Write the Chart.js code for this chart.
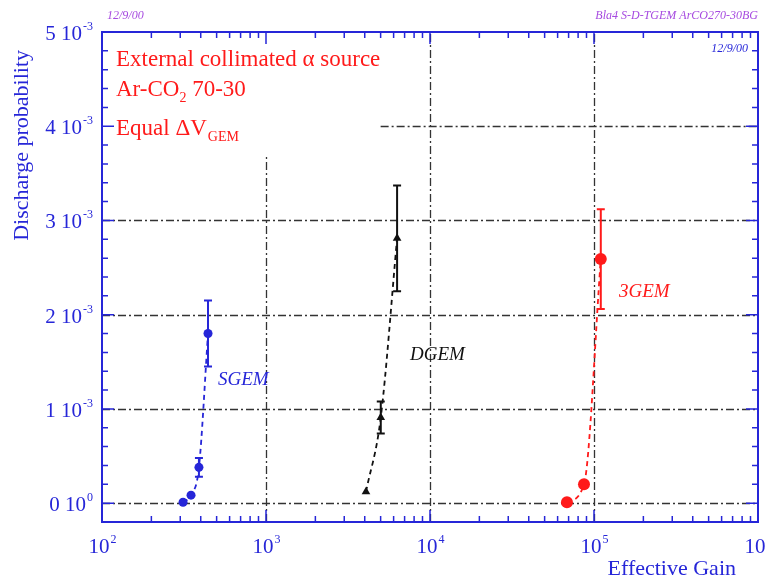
<!DOCTYPE html>
<html>
<head>
<meta charset="utf-8">
<script src="https://cdn.jsdelivr.net/npm/chart.js@4"></script>
<style>
  body { margin: 0; background: #fff; }
  #wrap { width: 765px; height: 578px; }
</style>
</head>
<body>
<div id="wrap"><canvas id="chart" width="765" height="578"></canvas></div>
<script>
// values (gain, discharge probability, error)
const sgemGain = [312, 349, 390, 443];
const sgemProb = [0.01e-3, 0.085e-3, 0.38e-3, 1.8e-3];
const sgemErr = [0, 0, 0.1e-3, 0.35e-3];

const dgemGain = [4070, 5010, 6300];
const dgemProb = [0.12e-3, 0.91e-3, 2.81e-3];
const dgemErr = [0, 0.17e-3, 0.56e-3];

const tgemGain = [68400, 86900, 110000];
const tgemProb = [0.01e-3, 0.2e-3, 2.59e-3];
const tgemErr = [0, 0, 0.53e-3];

const xDecades = [2, 3, 4, 5, 6];
const yTicks = [0, 1, 2, 3, 4, 5];  // in units of 1e-3
const legendLines = ['External collimated \u03b1 source', 'Ar-CO', 'Equal \u0394V'];

const BLUE = '#2626d8';
const RED = '#ff1a1a';
const PURPLE = '#a64ae0';
const SERIF = '"Liberation Serif", "DejaVu Serif", serif';

function pts(xs, ys) {
    return xs.map((x, i) => ({ x: x, y: ys[i] }));
}

function powLabel(ctx, base, exp, x, y, align) {
    ctx.font = '21px ' + SERIF;
    const wb = ctx.measureText(base).width;
    ctx.font = '12px ' + SERIF;
    const we = ctx.measureText(exp).width;
    let x0 = x;
    if (align === 'right') x0 = x - wb - we - 1;
    if (align === 'center') x0 = x - (wb + we) / 2;
    ctx.textAlign = 'left';
    ctx.font = '21px ' + SERIF;
    ctx.fillText(base, x0, y);
    ctx.font = '12px ' + SERIF;
    ctx.fillText(exp, x0 + wb + 1, y - 10);
}

const framePlugin = {
    id: 'frame',
    beforeDatasetsDraw(chart) {
        const ctx = chart.ctx;
        const xs = chart.scales.x, ys = chart.scales.y;
        ctx.save();
        ctx.strokeStyle = '#333';
        ctx.lineWidth = 1.3;
        ctx.setLineDash([8, 3, 2, 3]);
        const hLines = [[0, 100], [1e-3, 100], [2e-3, 100], [3e-3, 100], [4e-3, 5000]];
        hLines.forEach(([v, from]) => {
            const py = Math.round(ys.getPixelForValue(v)) + 0.5;
            ctx.beginPath();
            ctx.moveTo(xs.getPixelForValue(from), py);
            ctx.lineTo(xs.getPixelForValue(1e6), py);
            ctx.stroke();
        });
        const vLines = [[1e3, 3.69e-3], [1e4, 5e-3], [1e5, 5e-3]];
        vLines.forEach(([v, to]) => {
            const px = Math.round(xs.getPixelForValue(v)) + 0.5;
            ctx.beginPath();
            ctx.moveTo(px, ys.getPixelForValue(-0.2e-3));
            ctx.lineTo(px, ys.getPixelForValue(to));
            ctx.stroke();
        });
        ctx.restore();
    },
    afterDatasetsDraw(chart) {
        const ctx = chart.ctx;
        const xs = chart.scales.x, ys = chart.scales.y;
        const a = chart.chartArea;
        ctx.save();

        // error bars
        const groups = [
            [sgemGain, sgemProb, sgemErr, BLUE],
            [dgemGain, dgemProb, dgemErr, '#111'],
            [tgemGain, tgemProb, tgemErr, RED]
        ];
        groups.forEach(([g, p, e, c]) => {
            ctx.strokeStyle = c;
            ctx.lineWidth = 2;
            g.forEach((gv, i) => {
                if (!e[i]) return;
                const px = xs.getPixelForValue(gv);
                const y1 = ys.getPixelForValue(p[i] + e[i]);
                const y2 = ys.getPixelForValue(p[i] - e[i]);
                ctx.beginPath();
                ctx.moveTo(px, y1); ctx.lineTo(px, y2);
                ctx.moveTo(px - 4, y1); ctx.lineTo(px + 4, y1);
                ctx.moveTo(px - 4, y2); ctx.lineTo(px + 4, y2);
                ctx.stroke();
            });
        });

        // frame
        ctx.strokeStyle = BLUE;
        ctx.lineWidth = 2;
        ctx.strokeRect(a.left, a.top, a.right - a.left, a.bottom - a.top);

        // x ticks (top & bottom)
        ctx.lineWidth = 1.5;
        for (let d = 2; d < 6; d++) {
            for (let m = 1; m < 10; m++) {
                const px = xs.getPixelForValue(m * Math.pow(10, d));
                const len = m === 1 ? 12 : 6;
                ctx.beginPath();
                ctx.moveTo(px, a.bottom); ctx.lineTo(px, a.bottom - len);
                ctx.moveTo(px, a.top); ctx.lineTo(px, a.top + len);
                ctx.stroke();
            }
        }
        // y ticks (left & right)
        for (let k = -1; k <= 25; k++) {
            const py = ys.getPixelForValue(k * 0.2e-3);
            const len = k % 5 === 0 ? 12 : 6;
            ctx.beginPath();
            ctx.moveTo(a.left, py); ctx.lineTo(a.left + len, py);
            ctx.moveTo(a.right, py); ctx.lineTo(a.right - len, py);
            ctx.stroke();
        }

        // tick labels
        ctx.fillStyle = BLUE;
        ctx.textBaseline = 'alphabetic';
        xDecades.forEach(d => {
            powLabel(ctx, '10', String(d), xs.getPixelForValue(Math.pow(10, d)), 553, 'center');
        });
        yTicks.forEach(t => {
            const exp = t === 0 ? '0' : '-3';
            powLabel(ctx, t + ' 10', exp, 93, ys.getPixelForValue(t * 1e-3) + 8, 'right');
        });

        // axis titles
        ctx.font = '22px ' + SERIF;
        ctx.textAlign = 'right';
        ctx.fillText('Effective Gain', 736, 575);
        ctx.save();
        ctx.translate(28, 50);
        ctx.rotate(-Math.PI / 2);
        ctx.textAlign = 'right';
        ctx.fillText('Discharge probability', 0, 0);
        ctx.restore();

        // legend text
        ctx.fillStyle = RED;
        ctx.textAlign = 'left';
        ctx.font = '23px ' + SERIF;
        ctx.fillText(legendLines[0], 116, 66);
        ctx.fillText(legendLines[1], 116, 96);
        let w = ctx.measureText(legendLines[1]).width;
        ctx.font = '14px ' + SERIF;
        ctx.fillText('2', 116 + w, 102);
        ctx.font = '23px ' + SERIF;
        ctx.fillText(' 70-30', 116 + w + 7, 96);
        ctx.fillText(legendLines[2], 116, 135);
        w = ctx.measureText(legendLines[2]).width;
        ctx.font = '14px ' + SERIF;
        ctx.fillText('GEM', 116 + w + 1, 141);

        // series labels
        ctx.font = 'italic 19px ' + SERIF;
        ctx.fillStyle = BLUE;
        ctx.fillText('SGEM', 218, 385);
        ctx.fillStyle = '#111';
        ctx.fillText('DGEM', 410, 360);
        ctx.fillStyle = RED;
        ctx.fillText('3GEM', 619, 297);

        // stamps
        ctx.font = 'italic 12px ' + SERIF;
        ctx.fillStyle = PURPLE;
        ctx.fillText('12/9/00', 107, 19);
        ctx.textAlign = 'right';
        ctx.fillText('Bla4 S-D-TGEM ArCO270-30BG', 758, 19);
        ctx.fillStyle = BLUE;
        ctx.fillText('12/9/00', 748, 52);
        ctx.restore();
    }
};

function series(data, color, style, r) {
    return {
        data: data,
        showLine: true,
        borderColor: color,
        backgroundColor: color,
        borderWidth: 1.8,
        borderDash: [5, 4],
        cubicInterpolationMode: 'monotone',
        pointStyle: style,
        pointRadius: r,
        pointBorderWidth: 0
    };
}

new Chart(document.getElementById('chart'), {
    type: 'scatter',
    data: {
        datasets: [
            series(pts(sgemGain, sgemProb), BLUE, 'circle', 4.5),
            series(pts(dgemGain, dgemProb), '#111', 'triangle', 5),
            series(pts(tgemGain, tgemProb), RED, 'circle', 6)
        ]
    },
    options: {
        responsive: false,
        animation: false,
        layout: { padding: { left: 102, right: 7, top: 32, bottom: 56 } },
        plugins: { legend: { display: false }, tooltip: { enabled: false } },
        scales: {
            x: { type: 'logarithmic', min: 100, max: 1e6, display: false },
            y: { type: 'linear', min: -0.2e-3, max: 5e-3, display: false }
        }
    },
    plugins: [framePlugin]
});
</script>
</body>
</html>
